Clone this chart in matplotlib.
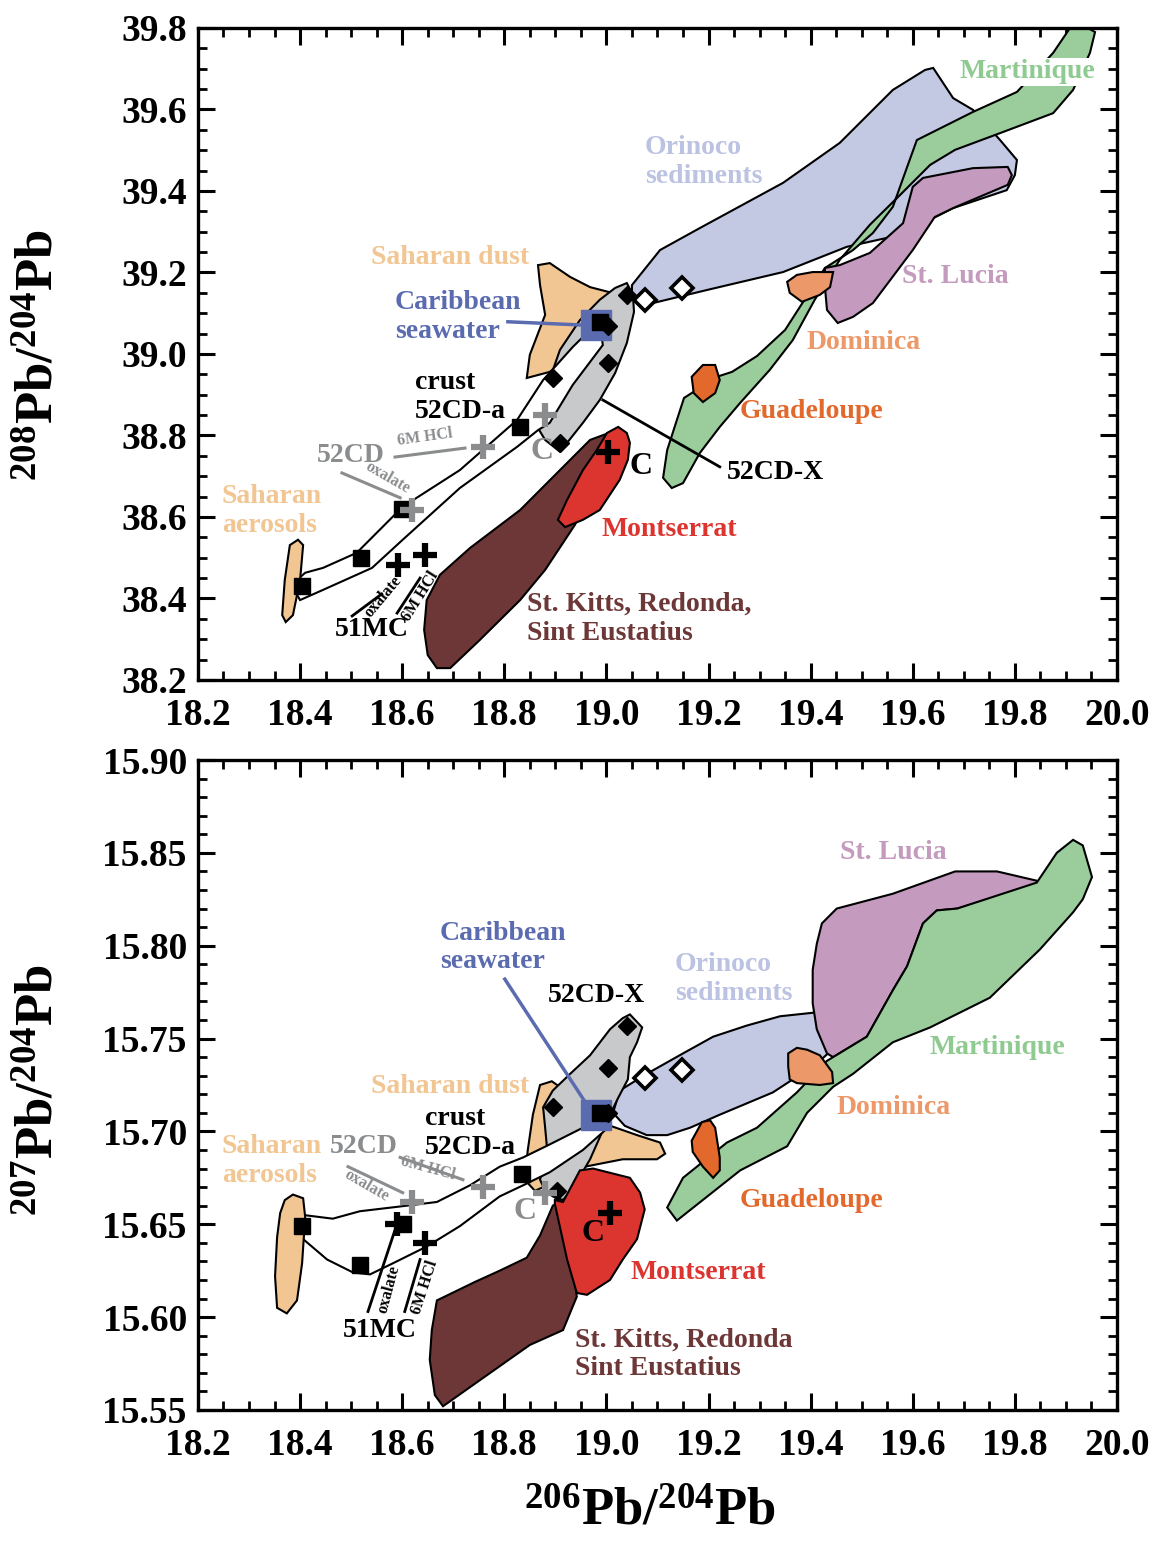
import numpy as np
import matplotlib
matplotlib.use("Agg")
import matplotlib.pyplot as plt
from matplotlib.ticker import MultipleLocator, FormatStrFormatter

plt.rcParams['font.family'] = ['Liberation Serif', 'DejaVu Serif']
plt.rcParams['font.weight'] = 'bold'
plt.rcParams['mathtext.fontset'] = 'custom'
plt.rcParams['mathtext.rm'] = 'Liberation Serif:bold'
plt.rcParams['mathtext.bf'] = 'Liberation Serif:bold'
plt.rcParams['mathtext.it'] = 'Liberation Serif:bold'

# ---------------- colours ----------------
c_orinoco = '#c3c8e3'
c_martinique = '#9acd9b'
c_stlucia = '#c49abf'
c_dominica = '#ec9868'
c_guadeloupe = '#e3682c'
c_montserrat = '#dc3530'
c_stkitts = '#6e3737'
c_sahara = '#f2c693'
c_cdx = '#c8c9cb'
c_blue = '#5b6bb0'
c_grey = '#8a8c8e'

# ================= 208Pb/204Pb vs 206Pb/204Pb =================
orinoco_208 = [(19.050, 39.169), (19.105, 39.255), (19.183, 39.309), (19.346, 39.420),
               (19.457, 39.518), (19.561, 39.648), (19.624, 39.697), (19.640, 39.702),
               (19.679, 39.628), (19.718, 39.599), (19.771, 39.525), (19.804, 39.476),
               (19.800, 39.439), (19.784, 39.402), (19.679, 39.358), (19.575, 39.292),
               (19.471, 39.263), (19.346, 39.201), (19.197, 39.157), (19.085, 39.123),
               (19.050, 39.133)]
martinique_208 = [(19.128, 38.671), (19.111, 38.696), (19.119, 38.764), (19.138, 38.838),
                  (19.152, 38.892), (19.183, 38.917), (19.209, 38.941), (19.246, 38.956),
                  (19.295, 38.995), (19.350, 39.059), (19.428, 39.211), (19.483, 39.255),
                  (19.522, 39.297), (19.561, 39.361), (19.589, 39.459), (19.608, 39.525),
                  (19.718, 39.594), (19.804, 39.643), (19.875, 39.739), (19.908, 39.800),
                  (19.933, 39.807), (19.957, 39.790), (19.947, 39.739), (19.914, 39.648),
                  (19.875, 39.591), (19.771, 39.542), (19.683, 39.501), (19.634, 39.464),
                  (19.575, 39.390), (19.516, 39.317), (19.457, 39.231), (19.408, 39.133),
                  (19.365, 39.034), (19.320, 38.961), (19.262, 38.880), (19.222, 38.821),
                  (19.183, 38.757), (19.150, 38.683)]
stlucia_208 = [(19.428, 39.211), (19.457, 39.218), (19.516, 39.248), (19.581, 39.321),
               (19.600, 39.410), (19.620, 39.432), (19.718, 39.456), (19.786, 39.459),
               (19.794, 39.439), (19.786, 39.415), (19.679, 39.358), (19.643, 39.336),
               (19.600, 39.255), (19.522, 39.125), (19.483, 39.091), (19.453, 39.076),
               (19.432, 39.108), (19.428, 39.164)]
dominica_208 = [(19.354, 39.177), (19.373, 39.194), (19.404, 39.201), (19.444, 39.201),
                (19.438, 39.164), (19.418, 39.145), (19.383, 39.128), (19.359, 39.150)]
guadeloupe_208 = [(19.167, 38.944), (19.189, 38.973), (19.213, 38.973), (19.222, 38.936),
                  (19.213, 38.904), (19.189, 38.882), (19.171, 38.904)]
dust_208 = [(18.866, 39.218), (18.889, 39.223), (18.929, 39.189), (18.968, 39.164),
            (19.011, 39.150), (19.026, 39.133), (18.987, 39.059), (18.938, 38.998),
            (18.889, 38.956), (18.844, 38.941), (18.850, 38.998), (18.880, 39.096),
            (18.870, 39.169)]
cdx_208 = [(19.040, 39.174), (19.052, 39.145), (19.054, 39.103), (19.040, 39.027),
           (19.017, 38.953), (18.987, 38.887), (18.954, 38.831), (18.923, 38.782),
           (18.909, 38.760), (18.880, 38.789), (18.866, 38.818), (18.899, 38.887),
           (18.885, 38.924), (18.909, 39.010), (18.948, 39.083), (18.987, 39.133),
           (19.017, 39.162)]
crust_208 = [(18.394, 38.445), (18.410, 38.463), (18.445, 38.475), (18.511, 38.512),
             (18.601, 38.625), (18.713, 38.715), (18.825, 38.838), (18.876, 38.936),
             (18.934, 39.017), (18.968, 39.059), (18.987, 39.071), (18.993, 39.022),
             (18.934, 38.924), (18.889, 38.831), (18.866, 38.813), (18.825, 38.772),
             (18.713, 38.671), (18.601, 38.544), (18.541, 38.475), (18.445, 38.421),
             (18.400, 38.396), (18.394, 38.409)]
aerosol_208 = [(18.380, 38.531), (18.396, 38.544), (18.406, 38.531), (18.400, 38.445),
               (18.386, 38.359), (18.372, 38.342), (18.365, 38.359), (18.370, 38.445)]
stkitts_208 = [(18.668, 38.229), (18.650, 38.261), (18.643, 38.323), (18.648, 38.396),
               (18.674, 38.458), (18.733, 38.524), (18.831, 38.617), (18.909, 38.715),
               (18.968, 38.789), (19.011, 38.809), (18.987, 38.715), (18.958, 38.629),
               (18.938, 38.580), (18.880, 38.470), (18.831, 38.396), (18.752, 38.298),
               (18.694, 38.229)]
montserrat_208 = [(19.001, 38.806), (19.023, 38.821), (19.040, 38.806), (19.046, 38.782),
                  (19.042, 38.740), (19.026, 38.691), (18.987, 38.617), (18.954, 38.593),
                  (18.919, 38.575), (18.905, 38.593), (18.923, 38.642), (18.954, 38.715),
                  (18.981, 38.764)]

# samples (206Pb/204Pb, 208Pb/204Pb)
crust_sq_x = [18.404, 18.519, 18.600, 18.831, 18.987]
crust_sq_y = [38.431, 38.499, 38.620, 38.821, 39.079]
cdx_x = [19.040, 19.003, 19.003, 18.895, 18.909]
cdx_y = [39.145, 39.069, 38.978, 38.941, 38.782]
open_dia_x = [19.075, 19.148]
open_dia_y = [39.133, 39.162]
leach52_x = [18.758, 18.619, 18.880]
leach52_y = [38.772, 38.617, 38.850]
leach51_x = [18.592, 18.645, 19.003]
leach51_y = [38.482, 38.507, 38.760]
seawater_208 = (18.979, 39.071)

# ================= 207Pb/204Pb vs 206Pb/204Pb =================
orinoco_207 = [(19.013, 15.710), (19.026, 15.722), (19.079, 15.731), (19.150, 15.742),
               (19.209, 15.751), (19.275, 15.757), (19.340, 15.762), (19.408, 15.764),
               (19.438, 15.760), (19.442, 15.744), (19.418, 15.738), (19.365, 15.728),
               (19.326, 15.721), (19.222, 15.709), (19.164, 15.702), (19.119, 15.698),
               (19.079, 15.698), (19.036, 15.703)]
stlucia_207 = [(19.422, 15.812), (19.451, 15.820), (19.561, 15.828), (19.683, 15.840),
               (19.765, 15.840), (19.843, 15.835), (19.843, 15.833), (19.687, 15.820),
               (19.647, 15.819), (19.620, 15.812), (19.589, 15.789), (19.561, 15.776),
               (19.510, 15.751), (19.444, 15.740), (19.432, 15.742), (19.412, 15.755),
               (19.404, 15.769), (19.404, 15.787), (19.412, 15.801)]
martinique_207 = [(19.914, 15.857), (19.933, 15.854), (19.951, 15.837), (19.933, 15.825),
                  (19.914, 15.818), (19.849, 15.798), (19.751, 15.772), (19.634, 15.756),
                  (19.561, 15.748), (19.483, 15.731), (19.444, 15.724), (19.393, 15.710),
                  (19.354, 15.692), (19.262, 15.679), (19.138, 15.652), (19.119, 15.659),
                  (19.150, 15.675), (19.236, 15.694), (19.295, 15.702), (19.373, 15.721),
                  (19.432, 15.738), (19.510, 15.751), (19.561, 15.776), (19.589, 15.789),
                  (19.620, 15.812), (19.647, 15.819), (19.687, 15.820), (19.843, 15.834),
                  (19.882, 15.850)]
dominica_207 = [(19.356, 15.742), (19.373, 15.745), (19.393, 15.744), (19.418, 15.741),
                (19.442, 15.732), (19.444, 15.726), (19.418, 15.725), (19.373, 15.726),
                (19.359, 15.728), (19.356, 15.735)]
guadeloupe_207 = [(19.187, 15.705), (19.203, 15.706), (19.213, 15.702), (19.222, 15.686),
                  (19.222, 15.679), (19.209, 15.675), (19.189, 15.681), (19.169, 15.689),
                  (19.167, 15.695)]
dust_207 = [(18.870, 15.725), (18.893, 15.727), (18.919, 15.722), (18.948, 15.712),
            (18.987, 15.705), (19.060, 15.698), (19.105, 15.694), (19.115, 15.688),
            (19.099, 15.685), (19.032, 15.685), (18.958, 15.681), (18.909, 15.674),
            (18.860, 15.668), (18.840, 15.674), (18.846, 15.690), (18.856, 15.709)]
cdx_207 = [(19.032, 15.761), (19.046, 15.763), (19.070, 15.756), (19.060, 15.748),
           (19.046, 15.740), (19.042, 15.728), (19.021, 15.717), (18.997, 15.703),
           (18.968, 15.685), (18.938, 15.671), (18.915, 15.663), (18.895, 15.665),
           (18.880, 15.668), (18.870, 15.674), (18.884, 15.690), (18.880, 15.702),
           (18.876, 15.713), (18.895, 15.722), (18.929, 15.731), (18.968, 15.741),
           (19.007, 15.755)]
crust_207 = [(18.406, 15.655), (18.464, 15.653), (18.517, 15.657), (18.609, 15.660),
             (18.668, 15.662), (18.733, 15.671), (18.791, 15.681), (18.837, 15.686),
             (18.889, 15.693), (18.954, 15.702), (18.997, 15.707), (19.003, 15.702),
             (18.954, 15.690), (18.889, 15.678), (18.837, 15.671), (18.791, 15.665),
             (18.713, 15.649), (18.648, 15.638), (18.582, 15.629), (18.537, 15.623),
             (18.504, 15.624), (18.453, 15.631), (18.406, 15.642)]
aerosol_207 = [(18.370, 15.663), (18.386, 15.666), (18.406, 15.664), (18.410, 15.654),
               (18.404, 15.629), (18.394, 15.609), (18.374, 15.602), (18.355, 15.605),
               (18.351, 15.622), (18.355, 15.643), (18.361, 15.656)]
stkitts_207 = [(18.658, 15.593), (18.668, 15.609), (18.743, 15.619), (18.791, 15.625),
               (18.844, 15.632), (18.870, 15.644), (18.895, 15.660), (18.913, 15.663),
               (18.929, 15.642), (18.942, 15.611), (18.915, 15.593), (18.850, 15.585),
               (18.752, 15.566), (18.680, 15.552), (18.664, 15.558), (18.654, 15.577)]
montserrat_207 = [(18.899, 15.663), (18.915, 15.662), (18.948, 15.679), (18.974, 15.680),
                  (19.046, 15.675), (19.066, 15.667), (19.075, 15.658), (19.060, 15.642),
                  (19.032, 15.631), (19.007, 15.620), (18.962, 15.612), (18.942, 15.613),
                  (18.923, 15.631), (18.899, 15.661)]

crust_sq_y7 = [15.649, 15.628, 15.650, 15.677, 15.710]
crust_sq_x7 = [18.404, 18.517, 18.601, 18.835, 18.987]
cdx_x7 = [19.040, 19.003, 18.895, 18.903, 19.003]
cdx_y7 = [15.757, 15.734, 15.713, 15.668, 15.710]
open_dia_x7 = [19.075, 19.148]
open_dia_y7 = [15.729, 15.733]
leach52_x7 = [18.619, 18.758, 18.880]
leach52_y7 = [15.662, 15.670, 15.667]
leach51_x7 = [18.590, 18.645, 19.007]
leach51_y7 = [15.650, 15.640, 15.656]
seawater_207 = (18.979, 15.709)


def patch(ax, pts, color, z):
    xy = np.array(pts)
    ax.fill(xy[:, 0], xy[:, 1], facecolor=color, edgecolor='black', lw=1.5, zorder=z)


def markers(ax, sq, dia, odia, l52, l51, sw):
    ax.plot(*sw, 's', ms=21, color=c_blue, zorder=10)
    ax.plot(sq[0], sq[1], 's', ms=11.5, color='black', zorder=11)
    ax.plot(dia[0], dia[1], 'D', ms=9.5, color='black', zorder=11)
    ax.plot(odia[0], odia[1], 'D', ms=11, mfc='white', mec='black', mew=2.6, zorder=11)
    ax.plot(l52[0], l52[1], '+', ms=17, mew=4.5, color=c_grey, zorder=12)
    ax.plot(l51[0], l51[1], '+', ms=17, mew=4.5, color='black', zorder=12)


def style(ax, ylo, yhi, ymaj, ymin, yfmt):
    ax.set_xlim(18.2, 20.0)
    ax.set_ylim(ylo, yhi)
    ax.xaxis.set_major_locator(MultipleLocator(0.2))
    ax.xaxis.set_minor_locator(MultipleLocator(0.05))
    ax.yaxis.set_major_locator(MultipleLocator(ymaj))
    ax.yaxis.set_minor_locator(MultipleLocator(ymin))
    ax.xaxis.set_major_formatter(FormatStrFormatter('%.1f'))
    ax.yaxis.set_major_formatter(FormatStrFormatter(yfmt))
    ax.tick_params(which='both', direction='in', top=True, right=True)
    ax.tick_params(which='major', length=12, width=2.2, labelsize=27)
    ax.tick_params(axis='x', which='major', pad=13)
    ax.tick_params(axis='y', which='major', pad=8)
    ax.tick_params(which='minor', length=6.5, width=2)
    for s in ax.spines.values():
        s.set_linewidth(2.4)


fig = plt.figure(figsize=(11.61, 15.46), dpi=100)
ax1 = fig.add_axes([0.1705, 0.5602, 0.7916, 0.4217])
ax2 = fig.add_axes([0.1705, 0.0880, 0.7916, 0.4204])

# ---------- upper panel ----------
patch(ax1, orinoco_208, c_orinoco, 1)
patch(ax1, martinique_208, c_martinique, 2)
patch(ax1, stlucia_208, c_stlucia, 3)
patch(ax1, dominica_208, c_dominica, 4)
patch(ax1, guadeloupe_208, c_guadeloupe, 4)
patch(ax1, dust_208, c_sahara, 4)
patch(ax1, cdx_208, c_cdx, 5)
patch(ax1, crust_208, 'white', 6)
patch(ax1, aerosol_208, c_sahara, 6)
patch(ax1, stkitts_208, c_stkitts, 6)
patch(ax1, montserrat_208, c_montserrat, 7)

ax1.plot([18.807, 18.952], [39.079, 39.071], color=c_blue, lw=2.5, zorder=9)
ax1.plot([18.993, 19.222], [38.887, 38.723], color='black', lw=2, zorder=9)
ax1.plot([18.502, 18.560], [38.357, 38.411], color='black', lw=2, zorder=9)
ax1.plot([18.590, 18.635], [38.364, 38.450], color='black', lw=2, zorder=9)
ax1.plot([18.586, 18.723], [38.747, 38.769], color=c_grey, lw=2.2, zorder=9)
ax1.plot([18.482, 18.596], [38.708, 38.647], color=c_grey, lw=2.2, zorder=9)

markers(ax1, (crust_sq_x, crust_sq_y), (cdx_x, cdx_y), (open_dia_x, open_dia_y),
        (leach52_x, leach52_y), (leach51_x, leach51_y), seawater_208)

big = 20
ls = 1.2
t = dict(fontsize=big, fontweight='bold', zorder=15)
ax1.text(19.075, 39.471, 'Orinoco\nsediments', color='#bcc2e2', ha='left', va='center', linespacing=ls, **t)
ax1.text(19.824, 39.692, 'Martinique', color='#8fca91', ha='center', va='center',
         bbox=dict(facecolor='white', edgecolor='none', pad=1), **t)
ax1.text(19.683, 39.191, 'St. Lucia', color=c_stlucia, ha='center', va='center', **t)
ax1.text(19.504, 39.029, 'Dominica', color=c_dominica, ha='center', va='center', **t)
ax1.text(19.401, 38.858, 'Guadeloupe', color=c_guadeloupe, ha='center', va='center', **t)
ax1.text(19.332, 38.710, '52CD-X', color='black', ha='center', va='center', **t)
ax1.text(19.124, 38.568, 'Montserrat', color=c_montserrat, ha='center', va='center', **t)
ax1.text(18.844, 38.350, 'St. Kitts, Redonda,\nSint Eustatius', color=c_stkitts, ha='left',
         va='center', linespacing=ls, **t)
ax1.text(18.694, 39.236, 'Saharan dust', color=c_sahara, ha='center', va='center', **t)
ax1.text(18.586, 39.091, 'Caribbean\nseawater', color=c_blue, ha='left', va='center', linespacing=ls, **t)
ax1.text(18.625, 38.894, 'crust\n52CD-a', color='black', ha='left', va='center', linespacing=ls, **t)
ax1.text(18.500, 38.750, '52CD', color=c_grey, ha='center', va='center', **t)
ax1.text(18.247, 38.615, 'Saharan\naerosols', color=c_sahara, ha='left', va='center', linespacing=ls, **t)
ax1.text(18.541, 38.323, '51MC', color='black', ha='center', va='center', **t)
ax1.text(18.873, 38.760, 'C', color=c_grey, ha='center', va='center', fontsize=23, fontweight='bold', zorder=15)
ax1.text(19.067, 38.723, 'C', color='black', ha='center', va='center', fontsize=23, fontweight='bold', zorder=15)
s = dict(fontsize=11.5, fontweight='bold', ha='center', va='center', zorder=15)
ax1.text(18.645, 38.796, '6M HCl', color=c_grey, rotation=8, **s)
ax1.text(18.572, 38.696, 'oxalate', color=c_grey, rotation=-30, **s)
ax1.text(18.562, 38.404, 'oxalate', color='black', rotation=50, **s)
ax1.text(18.635, 38.406, '6M HCl', color='black', rotation=58, **s)

style(ax1, 38.2, 39.8, 0.2, 0.05, '%.1f')

# ---------- lower panel ----------
patch(ax2, dust_207, c_sahara, 1)
patch(ax2, orinoco_207, c_orinoco, 2)
patch(ax2, stlucia_207, c_stlucia, 2)
patch(ax2, martinique_207, c_martinique, 3)
patch(ax2, dominica_207, c_dominica, 4)
patch(ax2, guadeloupe_207, c_guadeloupe, 4)
patch(ax2, cdx_207, c_cdx, 5)
patch(ax2, crust_207, 'white', 6)
patch(ax2, aerosol_207, c_sahara, 6)
patch(ax2, stkitts_207, c_stkitts, 6)
patch(ax2, montserrat_207, c_montserrat, 7)

ax2.plot([18.801, 18.958], [15.782, 15.716], color=c_blue, lw=2.5, zorder=9)
ax2.plot([18.596, 18.719], [15.686, 15.674], color=c_grey, lw=2.2, zorder=9)
ax2.plot([18.494, 18.601], [15.681, 15.667], color=c_grey, lw=2.2, zorder=9)
ax2.plot([18.533, 18.586], [15.603, 15.647], color='black', lw=2, zorder=9)
ax2.plot([18.605, 18.635], [15.603, 15.631], color='black', lw=2, zorder=9)

markers(ax2, (crust_sq_x7, crust_sq_y7), (cdx_x7, cdx_y7), (open_dia_x7, open_dia_y7),
        (leach52_x7, leach52_y7), (leach51_x7, leach51_y7), seawater_207)

ax2.text(19.561, 15.850, 'St. Lucia', color=c_stlucia, ha='center', va='center', **t)
ax2.text(18.674, 15.799, 'Caribbean\nseawater', color=c_blue, ha='left', va='center', linespacing=ls, **t)
ax2.text(18.981, 15.773, '52CD-X', color='black', ha='center', va='center', **t)
ax2.text(19.134, 15.782, 'Orinoco\nsediments', color='#bcc2e2', ha='left', va='center', linespacing=ls, **t)
ax2.text(19.765, 15.745, 'Martinique', color='#8fca91', ha='center', va='center', **t)
ax2.text(19.563, 15.713, 'Dominica', color=c_dominica, ha='center', va='center', **t)
ax2.text(18.694, 15.724, 'Saharan dust', color=c_sahara, ha='center', va='center', **t)
ax2.text(18.645, 15.699, 'crust\n52CD-a', color='black', ha='left', va='center', linespacing=ls, **t)
ax2.text(18.247, 15.684, 'Saharan\naerosols', color=c_sahara, ha='left', va='center', linespacing=ls, **t)
ax2.text(18.525, 15.692, '52CD', color=c_grey, ha='center', va='center', **t)
ax2.text(19.401, 15.663, 'Guadeloupe', color=c_guadeloupe, ha='center', va='center', **t)
ax2.text(19.179, 15.624, 'Montserrat', color=c_montserrat, ha='center', va='center', **t)
ax2.text(18.556, 15.593, '51MC', color='black', ha='center', va='center', **t)
ax2.text(18.938, 15.580, 'St. Kitts, Redonda\nSint Eustatius', color=c_stkitts, ha='left',
         va='center', linespacing=ls, **t)
ax2.text(18.840, 15.657, 'C', color=c_grey, ha='center', va='center', fontsize=23, fontweight='bold', zorder=15)
ax2.text(18.974, 15.645, 'C', color='black', ha='center', va='center', fontsize=23, fontweight='bold', zorder=15)
ax2.text(18.650, 15.680, '6M HCl', color=c_grey, rotation=-15, **s)
ax2.text(18.531, 15.671, 'oxalate', color=c_grey, rotation=-30, **s)
ax2.text(18.574, 15.615, 'oxalate', color='black', rotation=75, **s)
ax2.text(18.645, 15.616, '6M HCl', color='black', rotation=72, **s)

style(ax2, 15.55, 15.90, 0.05, 0.01, '%.2f')

# axis titles
fig.text(40 / 1161, 1 - 355 / 1546, r'$^{208}$Pb/$^{204}$Pb', rotation=90, ha='center', va='center',
         fontsize=38, fontweight='bold')
fig.text(40 / 1161, 1 - 1090 / 1546, r'$^{207}$Pb/$^{204}$Pb', rotation=90, ha='center', va='center',
         fontsize=38, fontweight='bold')
fig.text(650 / 1161, 1 - 1512 / 1546, r'$^{206}$Pb/$^{204}$Pb', ha='center', va='center',
         fontsize=38, fontweight='bold')

fig.savefig('out.png', dpi=100)
